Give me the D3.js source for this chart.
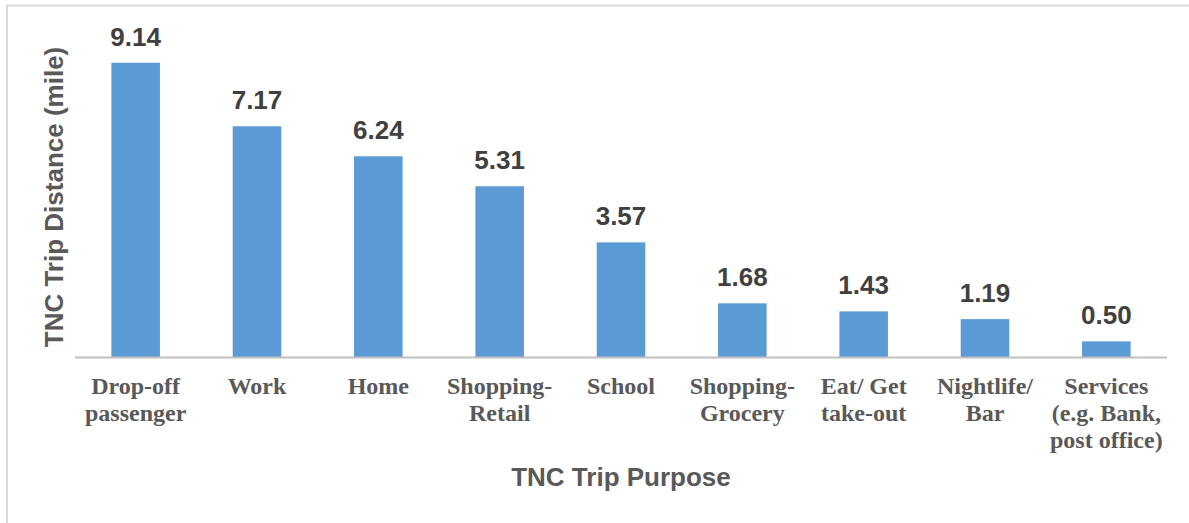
<!DOCTYPE html>
<html>
<head>
<meta charset="utf-8">
<script src="https://cdn.jsdelivr.net/npm/d3@7"></script>
<style>
  html, body { margin: 0; padding: 0; background: #fff; }
  svg { display: block; }
</style>
</head>
<body>
<svg id="chart" width="1189" height="523"></svg>
<script>
// Average TNC trip distance by trip purpose
const categories = [
  ["Drop-off", "passenger"],
  ["Work"],
  ["Home"],
  ["Shopping-", "Retail"],
  ["School"],
  ["Shopping-", "Grocery"],
  ["Eat/ Get", "take-out"],
  ["Nightlife/", "Bar"],
  ["Services", "(e.g. Bank,", "post office)"]
];
const distances = [9.14, 7.17, 6.24, 5.31, 3.57, 1.68, 1.43, 1.19, 0.50];
const xTitle = "TNC Trip Purpose";
const yTitle = "TNC Trip Distance (mile)";

const svg = d3.select("#chart");
const W = 1189, H = 523;

// outer frame (top and left edges visible)
svg.append("line").attr("x1", 7).attr("x2", W).attr("y1", 5.5).attr("y2", 5.5)
  .attr("stroke", "#d9d9d9").attr("stroke-width", 2);
svg.append("line").attr("x1", 7).attr("x2", 7).attr("y1", 5).attr("y2", H)
  .attr("stroke", "#d9d9d9").attr("stroke-width", 2);

const plot = { left: 75, right: 1167, top: 35, bottom: 357.5 };
const keys = categories.map((c, i) => i);

const x = d3.scaleBand().domain(keys).range([plot.left, plot.right])
  .paddingInner(0.6).paddingOuter(0.3);
const y = d3.scaleLinear().domain([0, 10]).range([plot.bottom, plot.top]);

// bars
svg.append("g").selectAll("rect").data(distances).join("rect")
  .attr("x", (d, i) => x(i))
  .attr("width", x.bandwidth())
  .attr("y", d => y(d))
  .attr("height", d => y(0) - y(d))
  .attr("fill", "#5b9bd5");

// value labels
svg.append("g").selectAll("text").data(distances).join("text")
  .attr("x", (d, i) => x(i) + x.bandwidth() / 2)
  .attr("y", d => y(d) - 17)
  .attr("text-anchor", "middle")
  .attr("font-family", "'Liberation Sans', Arial, sans-serif")
  .attr("font-weight", "bold")
  .attr("font-size", 26)
  .attr("fill", "#404040")
  .text(d => d.toFixed(2));

// category axis
const xAxis = svg.append("g")
  .attr("transform", `translate(0,${plot.bottom})`)
  .call(d3.axisBottom(x).tickSize(0).tickFormat(""));
xAxis.select(".domain").attr("stroke", "#bfbfbf").attr("stroke-width", 2)
  .attr("d", `M${plot.left},0H${plot.right}`);

const labels = svg.append("g").selectAll("text").data(categories).join("text")
  .attr("x", (d, i) => x(i) + x.bandwidth() / 2)
  .attr("y", 394)
  .attr("text-anchor", "middle")
  .attr("font-family", "'Liberation Serif', 'Times New Roman', serif")
  .attr("font-weight", "bold")
  .attr("font-size", 24)
  .attr("fill", "#595959");
labels.each(function(lines, i) {
  const t = d3.select(this);
  lines.forEach((ln, j) => {
    t.append("tspan")
      .attr("x", x(i) + x.bandwidth() / 2)
      .attr("y", 394 + j * 27)
      .text(ln);
  });
});

// axis titles
svg.append("text")
  .attr("x", (plot.left + plot.right) / 2)
  .attr("y", 486)
  .attr("text-anchor", "middle")
  .attr("font-family", "'Liberation Sans', Arial, sans-serif")
  .attr("font-weight", "bold")
  .attr("font-size", 26)
  .attr("fill", "#595959")
  .text(xTitle);

svg.append("text")
  .attr("transform", "translate(63,197) rotate(-90)")
  .attr("text-anchor", "middle")
  .attr("font-family", "'Liberation Sans', Arial, sans-serif")
  .attr("font-weight", "bold")
  .attr("font-size", 26)
  .attr("fill", "#595959")
  .text(yTitle);
</script>
</body>
</html>
